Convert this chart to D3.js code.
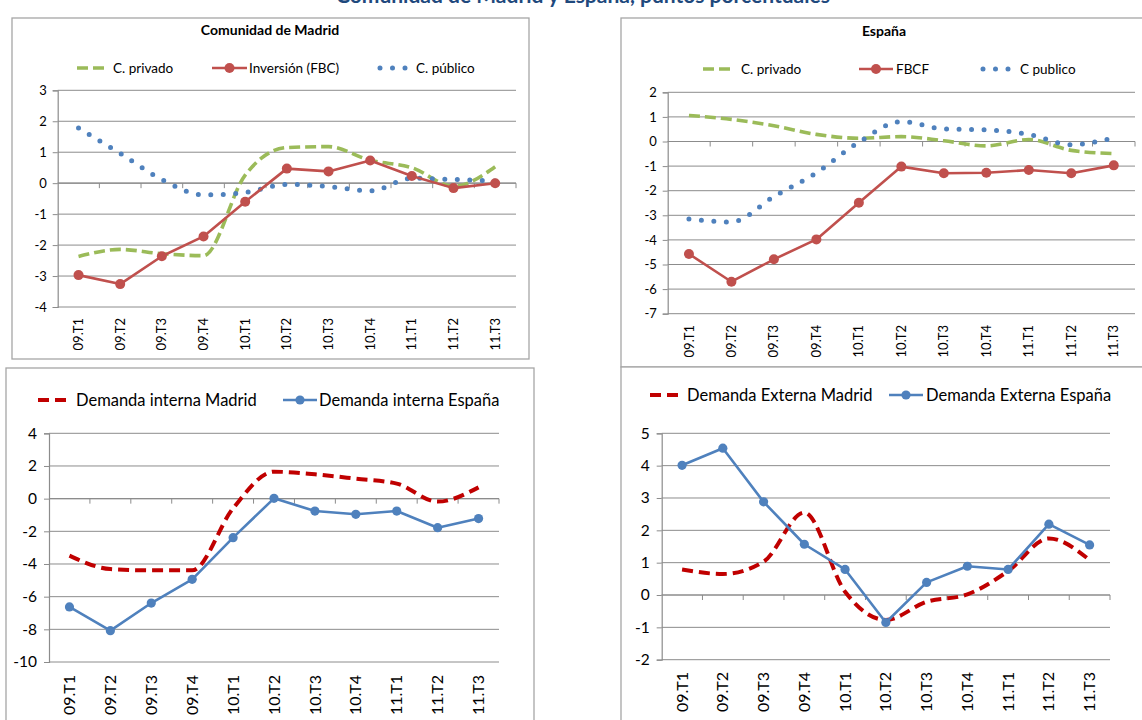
<!DOCTYPE html>
<html>
<head>
<meta charset="utf-8">
<script src="https://cdn.jsdelivr.net/npm/d3@7"></script>
<style>
  body { margin: 0; background: #fff; }
  svg text { font-family: Lato, "Open Sans", sans-serif; fill: #000; }
</style>
</head>
<body>
<script>
// quarters on the x axis
var categories = ["09.T1", "09.T2", "09.T3", "09.T4", "10.T1", "10.T2", "10.T3", "10.T4", "11.T1", "11.T2", "11.T3"];

// Comunidad de Madrid
var madPrivado   = [-2.37, -2.14, -2.28, -2.34, 0.26, 1.15, 1.18, 0.74, 0.50, -0.10, 0.53];
var madInversion = [-2.97, -3.26, -2.36, -1.72, -0.60, 0.47, 0.38, 0.73, 0.23, -0.16, 0.00];
var madPublico   = [1.78, 0.96, 0.12, -0.38, -0.30, -0.04, -0.11, -0.25, 0.16, 0.12, 0.07];

// España
var espPrivado = [1.06, 0.90, 0.64, 0.29, 0.13, 0.20, 0.03, -0.18, 0.08, -0.36, -0.49];
var espFbcf    = [-4.57, -5.70, -4.79, -3.98, -2.49, -1.02, -1.29, -1.27, -1.16, -1.29, -0.97];
var espPublico = [-3.15, -3.27, -2.24, -1.27, -0.03, 0.81, 0.51, 0.47, 0.29, -0.13, 0.15];

// demanda interna
var intMadrid = [-3.49, -4.31, -4.39, -4.39, -0.59, 1.65, 1.49, 1.22, 0.92, -0.18, 0.69];
var intEspana = [-6.63, -8.08, -6.39, -4.94, -2.39, 0.02, -0.76, -0.96, -0.76, -1.78, -1.22];

// demanda externa
var extMadrid = [0.79, 0.65, 1.03, 2.55, 0.10, -0.77, -0.21, 0.02, 0.74, 1.75, 1.08];
var extEspana = [4.01, 4.54, 2.88, 1.57, 0.79, -0.85, 0.39, 0.89, 0.79, 2.19, 1.55];

// y tick labels
var madTicks = [3, 2, 1, 0, -1, -2, -3, -4];
var espTicks = [2, 1, 0, -1, -2, -3, -4, -5, -6, -7];
var intTicks = [4, 2, 0, -2, -4, -6, -8, -10];
var extTicks = [5, 4, 3, 2, 1, 0, -1, -2];

const WIDTH = 1142;
const HEIGHT = 720;
const GRID = "#8c8c8c";

var svg = d3.select("body").append("svg")
    .attr("width", WIDTH)
    .attr("height", HEIGHT);

// styles for each kind of series
var STYLES = {
  greenDash: { stroke: "#9BBB59", width: 3.6, dash: "11 5", smooth: true },
  redMarker: { stroke: "#C0504D", width: 2.6, marker: 5, smooth: false },
  blueDots:  { stroke: "#4F81BD", width: 5, dash: "0 12.5", cap: "round", smooth: true },
  darkRedDash: { stroke: "#C00000", width: 4, dash: "11 6", smooth: true },
  blueMarker: { stroke: "#4F81BD", width: 2.6, marker: 4.6, smooth: false }
};

// title of the whole page, mostly cut off at the top
svg.append("text")
    .attr("x", 583).attr("y", 3)
    .attr("text-anchor", "middle")
    .attr("font-size", "21px")
    .attr("font-weight", "bold")
    .style("fill", "#1F497D")
    .text("Comunidad de Madrid y España, puntos porcentuales");

function drawPanel(p) {
  var g = svg.append("g");

  // frame
  g.append("rect")
      .attr("x", p.box[0]).attr("y", p.box[1])
      .attr("width", p.box[2]).attr("height", p.box[3])
      .attr("fill", "#fff")
      .attr("stroke", "#a6a6a6")
      .attr("stroke-width", 1.3);

  if (p.title) {
    g.append("text")
        .attr("x", p.title[1]).attr("y", p.title[2])
        .attr("text-anchor", "middle")
        .attr("font-size", "14px")
        .attr("font-weight", "bold")
        .text(p.title[0]);
  }

  var x = d3.scaleBand().domain(categories).range([p.left, p.right]);
  var y = d3.scaleLinear().domain(p.domain).range([p.bottom, p.top]);
  var cx = c => x(c) + x.bandwidth() / 2;

  // gridlines
  g.selectAll(".grid").data(p.ticks).enter().append("line")
      .attr("x1", p.left).attr("x2", p.right)
      .attr("y1", d => y(d)).attr("y2", d => y(d))
      .attr("stroke", GRID).attr("stroke-width", 1);

  // y axis
  var yAxis = g.append("g")
      .attr("transform", `translate(${p.left},0)`)
      .call(d3.axisLeft(y).tickValues(p.ticks).tickSize(5).tickPadding(p.fs * 0.45)
        .tickFormat(d => d < 0 ? "-" + Math.abs(d) : d));
  yAxis.select(".domain").attr("stroke", GRID).attr("stroke-width", 1.2);
  yAxis.selectAll(".tick line").attr("stroke", GRID);
  yAxis.selectAll("text").attr("font-size", p.fs + "px").attr("font-family", "Lato, sans-serif");

  // category axis on the zero line, ticks between quarters
  var y0 = y(0);
  g.append("line")
      .attr("x1", p.left).attr("x2", p.right)
      .attr("y1", y0).attr("y2", y0)
      .attr("stroke", GRID).attr("stroke-width", 1.2);
  g.selectAll(".ctick").data(categories).enter().append("line")
      .attr("x1", c => x(c) + x.bandwidth()).attr("x2", c => x(c) + x.bandwidth())
      .attr("y1", y0).attr("y2", y0 + 5)
      .attr("stroke", GRID);

  // rotated category labels at the bottom
  g.selectAll(".clabel").data(categories).enter().append("text")
      .attr("transform", c => `translate(${cx(c)},${p.labelTop}) rotate(-90)`)
      .attr("text-anchor", "end")
      .attr("dy", "0.35em")
      .attr("font-size", p.xfs + "px")
      .text(c => c);

  // series
  p.series.forEach(function(s) {
    var st = STYLES[s.style];
    var pts = s.values.map((v, i) => [cx(categories[i]), y(v)]);
    var line = d3.line().curve(st.smooth ? d3.curveMonotoneX : d3.curveLinear);
    g.append("path")
        .attr("d", line(pts))
        .attr("fill", "none")
        .attr("stroke", st.stroke)
        .attr("stroke-width", st.width)
        .attr("stroke-dasharray", st.dash || null)
        .attr("stroke-linecap", st.cap || "butt")
        .attr("stroke-linejoin", "round");
    if (st.marker) {
      g.selectAll(null).data(pts).enter().append("circle")
          .attr("cx", d => d[0]).attr("cy", d => d[1])
          .attr("r", st.marker)
          .attr("fill", st.stroke);
    }
  });

  // legend
  p.legend.forEach(function(l) {
    var st = STYLES[l.style];
    var ly = p.legendY;
    g.append("line")
        .attr("x1", l.x0).attr("x2", l.x1)
        .attr("y1", ly).attr("y2", ly)
        .attr("stroke", st.stroke)
        .attr("stroke-width", st.width)
        .attr("stroke-dasharray", st.dash || null)
        .attr("stroke-linecap", st.cap || "butt");
    if (st.marker) {
      g.append("circle")
          .attr("cx", (l.x0 + l.x1) / 2).attr("cy", ly)
          .attr("r", st.marker).attr("fill", st.stroke);
    }
    g.append("text")
        .attr("x", l.tx).attr("y", ly)
        .attr("dy", "0.35em")
        .attr("font-size", p.lfs + "px")
        .text(l.label);
  });
}

drawPanel({
  box: [12, 18, 517, 341],
  title: ["Comunidad de Madrid", 270, 35],
  left: 57.7, right: 516, top: 90.3, bottom: 307,
  domain: [-4, 3], ticks: madTicks, fs: 13, xfs: 13, lfs: 13.5,
  labelTop: 318,
  legendY: 68,
  legend: [
    { style: "greenDash", x0: 77, x1: 105, tx: 113, label: "C. privado" },
    { style: "redMarker", x0: 212, x1: 247, tx: 249, label: "Inversión (FBC)" },
    { style: "blueDots", x0: 380, x1: 408, tx: 416, label: "C. público" }
  ],
  series: [
    { style: "greenDash", values: madPrivado },
    { style: "blueDots", values: madPublico },
    { style: "redMarker", values: madInversion }
  ]
});

drawPanel({
  box: [621, 18, 540, 349],
  title: ["España", 884, 36],
  left: 667.7, right: 1135, top: 92.3, bottom: 313.7,
  domain: [-7, 2], ticks: espTicks, fs: 13, xfs: 13, lfs: 13.5,
  labelTop: 325,
  legendY: 69,
  legend: [
    { style: "greenDash", x0: 703, x1: 732, tx: 741, label: "C. privado" },
    { style: "redMarker", x0: 859, x1: 893, tx: 896, label: "FBCF" },
    { style: "blueDots", x0: 983, x1: 1011, tx: 1020, label: "C publico" }
  ],
  series: [
    { style: "greenDash", values: espPrivado },
    { style: "blueDots", values: espPublico },
    { style: "redMarker", values: espFbcf }
  ]
});

drawPanel({
  box: [6, 368, 528, 370],
  left: 49, right: 499, top: 433.3, bottom: 662,
  domain: [-10, 4], ticks: intTicks, fs: 15.5, xfs: 16, lfs: 16.5,
  labelTop: 675,
  legendY: 400,
  legend: [
    { style: "darkRedDash", x0: 38, x1: 67, tx: 76, label: "Demanda interna Madrid" },
    { style: "blueMarker", x0: 283, x1: 317, tx: 319, label: "Demanda interna España" }
  ],
  series: [
    { style: "darkRedDash", values: intMadrid },
    { style: "blueMarker", values: intEspana }
  ]
});

drawPanel({
  box: [621, 367, 540, 370],
  left: 661.7, right: 1110, top: 433.3, bottom: 659.7,
  domain: [-2, 5], ticks: extTicks, fs: 15.5, xfs: 16, lfs: 16.5,
  labelTop: 672,
  legendY: 395,
  legend: [
    { style: "darkRedDash", x0: 650, x1: 678, tx: 687, label: "Demanda Externa Madrid" },
    { style: "blueMarker", x0: 889, x1: 923, tx: 926, label: "Demanda Externa España" }
  ],
  series: [
    { style: "darkRedDash", values: extMadrid },
    { style: "blueMarker", values: extEspana }
  ]
});
</script>
</body>
</html>
